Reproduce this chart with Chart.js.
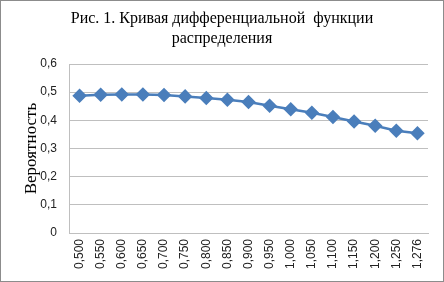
<!DOCTYPE html>
<html>
<head>
<meta charset="utf-8">
<script src="https://cdn.jsdelivr.net/npm/chart.js@4/dist/chart.umd.min.js"></script>
<style>
html,body{margin:0;padding:0;background:#fff;}
#wrap{width:444px;height:282px;position:relative;}
</style>
</head>
<body>
<div id="wrap"><canvas id="c" width="444" height="282"></canvas></div>
<script>
const categories = ["0,500","0,550","0,600","0,650","0,700","0,750","0,800","0,850","0,900","0,950","1,000","1,050","1,100","1,150","1,200","1,250","1,276"];
const probabilities = [0.487,0.491,0.492,0.492,0.490,0.485,0.479,0.473,0.465,0.452,0.439,0.427,0.412,0.396,0.381,0.363,0.354];
const titleLines = ["Рис. 1. Кривая дифференциальной  функции", "распределения"];
const yAxisTitle = "Вероятность";

const frame = {
  id: 'frame',
  afterDraw(chart) {
    const ctx = chart.ctx;
    ctx.save();
    ctx.strokeStyle = '#8c8c8c';
    ctx.lineWidth = 1;
    ctx.strokeRect(0.5, 0.5, chart.width - 1, chart.height - 1);
    ctx.restore();
  }
};

new Chart(document.getElementById('c'), {
  type: 'line',
  data: {
    labels: categories,
    datasets: [{
      data: probabilities,
      borderColor: '#4a7ebb',
      backgroundColor: '#4a7ebb',
      borderWidth: 2.5,
      pointStyle: 'rectRot',
      pointRadius: 5.5,
      pointHoverRadius: 5.5,
      tension: 0
    }]
  },
  options: {
    responsive: false,
    animation: false,
    devicePixelRatio: 1,
    layout: { padding: { left: 0, right: 0, top: 0, bottom: 4 } },
    plugins: {
      legend: { display: false },
      tooltip: { enabled: false },
      title: {
        display: true,
        text: titleLines,
        color: '#000',
        font: { family: "'Liberation Serif', 'Times New Roman', serif", size: 16, weight: 'normal', lineHeight: 1.25 },
        padding: { top: 9, bottom: 15 }
      }
    },
    scales: {
      x: {
        offset: true,
        grid: { display: false, drawTicks: false },
        border: { display: true, color: '#bfbfbf' },
        ticks: {
          color: '#222',
          font: { family: "'Liberation Sans', Arial, sans-serif", size: 12 },
          minRotation: 90, maxRotation: 90, padding: 6, autoSkip: false
        },
        afterFit(scale) { scale.height = 45; }
      },
      y: {
        min: 0, max: 0.6,
        grid: { color: '#bfbfbf', drawTicks: false },
        border: { display: true, color: '#bfbfbf' },
        ticks: {
          stepSize: 0.1,
          padding: 12,
          color: '#222',
          font: { family: "'Liberation Sans', Arial, sans-serif", size: 12 },
          callback: (v) => v === 0 ? '0' : v.toFixed(1).replace('.', ',')
        },
        title: {
          display: true,
          text: yAxisTitle,
          color: '#000',
          font: { family: "'Liberation Serif', 'Times New Roman', serif", size: 17 },
          padding: { top: 21, bottom: 0 }
        },
        afterFit(scale) { scale.width = 69; }
      },
      yRight: {
        position: 'right',
        display: true,
        min: 0, max: 0.6,
        grid: { display: false, drawTicks: false },
        border: { display: false },
        ticks: { display: false },
        afterFit(scale) { scale.width = 16; }
      }
    }
  },
  plugins: [frame]
});
</script>
</body>
</html>
